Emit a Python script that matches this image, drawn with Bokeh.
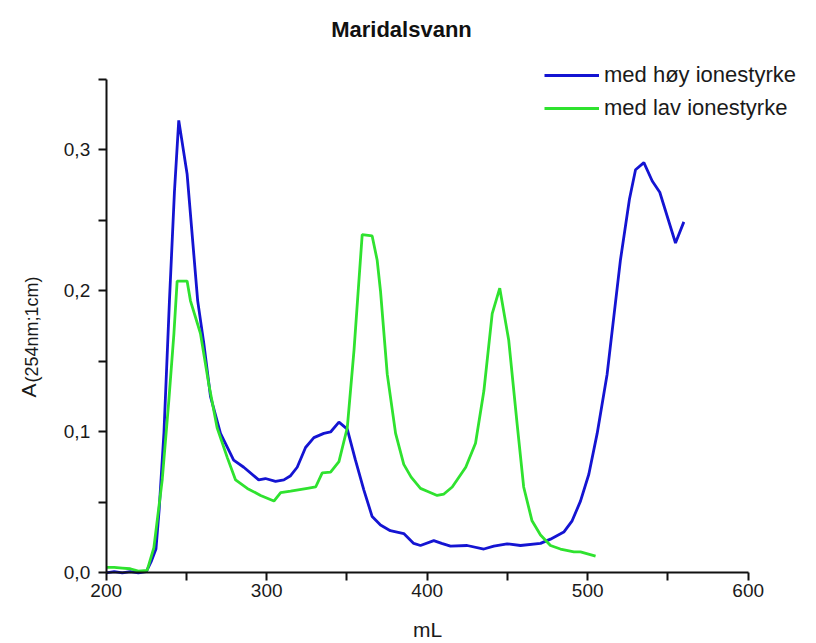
import numpy as np
from bokeh.plotting import figure
from bokeh.models import (Range1d, FixedTicker, CustomJSTickFormatter, Label,
                          Legend, LegendItem)
from bokeh.embed import file_html
from bokeh.resources import INLINE

# ---- data ----
hoy_ml = [200, 205, 210, 215, 220, 225, 228, 231, 233, 236, 239.4, 242.5, 245.2,
          250.4, 257, 260.8, 265, 271.2, 279.4, 285.7, 295, 299.2, 305.5, 310.7,
          314.9, 319, 324.2, 329.4, 335.6, 339.8, 345, 350.2, 355.3, 360.5, 365.7,
          370.9, 377, 385.4, 391.6, 395.8, 404.1, 409, 414.5, 424.9, 435.3, 441.5,
          449.8, 458.1, 470.6, 476.8, 485.1, 490.3, 495.5, 500.7, 505.9, 512.1,
          520.4, 526, 529.8, 535, 540.2, 544.9, 554.7, 559.9]
hoy_abs = [0.000, 0.001, 0.000, 0.001, 0.000, 0.001, 0.008, 0.017, 0.045, 0.100,
           0.193, 0.270, 0.321, 0.283, 0.193, 0.163, 0.125, 0.099, 0.080, 0.075,
           0.066, 0.067, 0.065, 0.066, 0.069, 0.075, 0.089, 0.096, 0.099, 0.100,
           0.107, 0.102, 0.080, 0.059, 0.040, 0.034, 0.030, 0.028, 0.021, 0.0195,
           0.023, 0.021, 0.019, 0.0195, 0.017, 0.019, 0.0207, 0.0195, 0.021, 0.024,
           0.029, 0.037, 0.051, 0.070, 0.099, 0.141, 0.222, 0.265, 0.286, 0.291,
           0.278, 0.270, 0.234, 0.249]

lav_ml = [200, 205, 210, 215, 220, 225.5, 229.7, 234.9, 239, 242.2, 244.2, 250.4,
          252.5, 258.7, 263.9, 269.1, 275.4, 280.6, 287.9, 296.2, 304.5, 308.7,
          314.9, 325.3, 330.5, 334.6, 339.8, 345, 350.2, 354.4, 357, 359.5, 365.7,
          368.8, 370.9, 375.1, 380.3, 385.4, 390, 395.8, 400, 406.2, 410.4, 415.6,
          424, 430.1, 435.3, 440.5, 445.2, 450.8, 456, 460.1, 465.3, 470.6, 476.8,
          483, 491.4, 495.5, 504.9]
lav_abs = [0.004, 0.004, 0.0035, 0.003, 0.0013, 0.0018, 0.018, 0.066, 0.122, 0.170,
           0.207, 0.207, 0.193, 0.170, 0.134, 0.103, 0.082, 0.066, 0.060, 0.055,
           0.051, 0.057, 0.058, 0.060, 0.061, 0.071, 0.0715, 0.079, 0.103, 0.158,
           0.200, 0.240, 0.239, 0.222, 0.200, 0.141, 0.099, 0.077, 0.068, 0.060,
           0.058, 0.055, 0.056, 0.061, 0.075, 0.092, 0.129, 0.184, 0.202, 0.165,
           0.106, 0.061, 0.037, 0.027, 0.0195, 0.017, 0.015, 0.015, 0.012]

x_major = [200, 300, 400, 500, 600]
x_minor = [250, 350, 450, 550]
y_major = [0.0, 0.1, 0.2, 0.3]
y_minor = [0.05, 0.15, 0.25, 0.35]
x_bounds = (200, 600)
y_bounds = (0.0, 0.35)

title_text = "Maridalsvann"
x_label = "mL"
y_label_main = "A"
y_label_sub = "(254nm;1cm)"
series_names = ["med høy ionestyrke", "med lav ionestyrke"]
series_colors = ["#1414d2", "#2fe22f"]

FONT = "Liberation Sans"
W, H = 816, 643

# the frame fills the whole canvas; the axes sit at fixed data locations
p = figure(width=W, height=H, output_backend="svg", toolbar_location=None,
           x_range=Range1d(134.14, 642.55), y_range=Range1d(-0.05, 0.406),
           min_border=0, min_border_left=0, min_border_right=0,
           min_border_top=0, min_border_bottom=0)
p.outline_line_color = None
p.xgrid.visible = False
p.ygrid.visible = False
p.background_fill_color = "white"
p.border_fill_color = "white"

r1 = p.line(hoy_ml, hoy_abs, line_color=series_colors[0], line_width=2.8)
r2 = p.line(lav_ml, lav_abs, line_color=series_colors[1], line_width=2.8)

for ax in (p.xaxis[0], p.yaxis[0]):
    ax.axis_line_width = 2
    ax.axis_line_color = "#111111"
    ax.major_tick_line_width = 2
    ax.minor_tick_line_width = 2
    ax.major_tick_line_color = "#111111"
    ax.minor_tick_line_color = "#111111"
    ax.major_tick_out = 8
    ax.major_tick_in = 0
    ax.minor_tick_out = 8
    ax.minor_tick_in = 0
    ax.major_label_text_font = FONT
    ax.major_label_text_font_size = "19px"
    ax.major_label_text_color = "#1a1a1a"

p.xaxis[0].fixed_location = y_bounds[0]
p.yaxis[0].fixed_location = x_bounds[0]
p.xaxis[0].bounds = x_bounds
p.yaxis[0].bounds = y_bounds
p.xaxis[0].ticker = FixedTicker(ticks=x_major, minor_ticks=x_minor)
p.yaxis[0].ticker = FixedTicker(ticks=y_major, minor_ticks=y_minor)
p.xaxis[0].formatter = CustomJSTickFormatter(code="return tick.toFixed(0);")
p.yaxis[0].formatter = CustomJSTickFormatter(
    code="return tick.toFixed(1).replace('.', ',');")
p.xaxis[0].major_label_standoff = 3
p.yaxis[0].major_label_standoff = 8

p.xaxis[0].axis_label = x_label
p.xaxis[0].axis_label_text_font = FONT
p.xaxis[0].axis_label_text_font_size = "21px"
p.xaxis[0].axis_label_text_font_style = "normal"
p.xaxis[0].axis_label_text_color = "#1a1a1a"
p.xaxis[0].axis_label_standoff = 18

# title
p.add_layout(Label(x=401, y=H - 29, x_units="screen", y_units="screen",
                   text=title_text, text_font=FONT, text_font_size="22px",
                   text_font_style="bold", text_align="center",
                   text_baseline="alphabetic", text_color="#111111"))
# y axis label with subscript
p.add_layout(Label(x=28, y=H - 397, x_units="screen", y_units="screen",
                   text=y_label_main, angle=np.pi / 2, text_font=FONT,
                   text_font_size="21px", text_align="left",
                   text_baseline="alphabetic", text_color="#1a1a1a"))
p.add_layout(Label(x=31, y=H - 382, x_units="screen", y_units="screen",
                   text=y_label_sub, angle=np.pi / 2, text_font=FONT,
                   text_font_size="18px", text_align="left",
                   text_baseline="alphabetic", text_color="#1a1a1a"))

legend = Legend(items=[LegendItem(label=series_names[0], renderers=[r1]),
                       LegendItem(label=series_names[1], renderers=[r2])],
                location=(544, H - 121), orientation="vertical")
legend.border_line_color = None
legend.background_fill_alpha = 0
legend.label_text_font = FONT
legend.label_text_font_size = "22px"
legend.label_text_color = "#1a1a1a"
legend.glyph_width = 55
legend.glyph_height = 20
legend.label_height = 20
legend.label_standoff = 5
legend.spacing = 7
legend.padding = 0
legend.margin = 0
p.add_layout(legend, "center")

open("out.html", "w").write(file_html(p, INLINE))
